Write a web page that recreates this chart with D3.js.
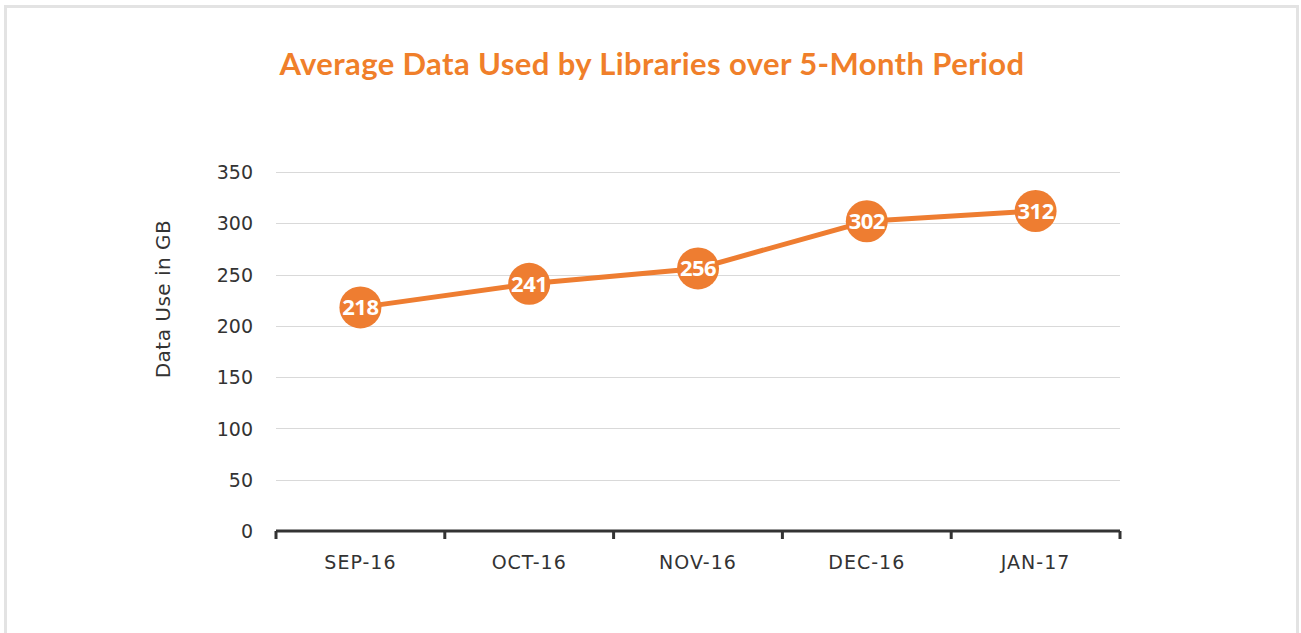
<!DOCTYPE html>
<html>
<head>
<meta charset="utf-8">
<script src="https://cdn.jsdelivr.net/npm/d3@7"></script>
<style>
  body { margin: 0; background: #fff; }
  svg { display: block; }
</style>
</head>
<body>
<svg id="chart"></svg>
<script>
let months = ["SEP-16", "OCT-16", "NOV-16", "DEC-16", "JAN-17"];
let usage = [218, 241, 256, 302, 312];
let yTicks = [0, 50, 100, 150, 200, 250, 300, 350];

let width = 1301;
let height = 633;
let left = 276;
let right = 1120;
let top_ = 172;
let bottom = 531;
let orange = "#ee7d31";
let axisFont = "'DejaVu Sans', 'Noto Sans', sans-serif";

let svg = d3.select("#chart").attr("width", width).attr("height", height);

// outer frame
svg.append("rect")
  .attr("x", 5.5).attr("y", 6.5)
  .attr("width", 1292).attr("height", 640)
  .attr("fill", "none")
  .attr("stroke", "#e3e3e3")
  .attr("stroke-width", 3);

let xScale = d3.scaleBand().domain(months).range([left, right]);
let yScale = d3.scaleLinear().domain([0, 350]).range([bottom, top_]);

// title
svg.append("text")
  .attr("x", 652).attr("y", 75)
  .attr("text-anchor", "middle")
  .style("font-family", "Lato, 'Open Sans', sans-serif")
  .style("font-weight", "bold")
  .style("font-size", "31px")
  .style("letter-spacing", "0.4px")
  .style("fill", "#f07f2a")
  .text("Average Data Used by Libraries over 5-Month Period");

// gridlines
svg.append("g")
  .selectAll("line")
  .data(yTicks.filter(d => d > 0))
  .enter()
  .append("line")
  .attr("x1", left).attr("x2", right)
  .attr("y1", d => Math.round(yScale(d)) + 0.5)
  .attr("y2", d => Math.round(yScale(d)) + 0.5)
  .attr("stroke", "#d9d9d9")
  .attr("stroke-width", 1);

// y axis labels
let yAxis = d3.axisLeft(yScale).tickValues(yTicks).tickSize(0).tickPadding(0);
let yg = svg.append("g")
  .attr("transform", "translate(" + 253 + ",0)")
  .call(yAxis);
yg.select(".domain").remove();
yg.selectAll("text")
  .style("font-family", axisFont)
  .style("font-size", "19px")
  .style("fill", "#333")
  .attr("dy", "0.35em");

// y axis title
svg.append("text")
  .attr("transform", "translate(170,299) rotate(-90)")
  .attr("text-anchor", "middle")
  .style("font-family", axisFont)
  .style("font-size", "20px")
  .style("letter-spacing", "0.5px")
  .style("fill", "#333")
  .text("Data Use in GB");

// x axis
let boundaries = months.map(m => xScale(m)).concat([right]);
let xg = svg.append("g");
xg.append("line")
  .attr("x1", left).attr("x2", right)
  .attr("y1", bottom).attr("y2", bottom)
  .attr("stroke", "#333")
  .attr("stroke-width", 3);
xg.selectAll(".tick")
  .data(boundaries)
  .enter()
  .append("line")
  .attr("x1", d => d).attr("x2", d => d)
  .attr("y1", bottom).attr("y2", bottom + 8)
  .attr("stroke", "#333")
  .attr("stroke-width", 3);
xg.selectAll(".xlabel")
  .data(months)
  .enter()
  .append("text")
  .attr("x", d => xScale(d) + xScale.bandwidth() / 2)
  .attr("y", 569)
  .attr("text-anchor", "middle")
  .style("font-family", axisFont)
  .style("font-size", "19px")
  .style("letter-spacing", "1px")
  .style("fill", "#333")
  .text(d => d);

// line
let points = months.map((m, i) => ({ month: m, value: usage[i] }));
let line = d3.line()
  .x(d => xScale(d.month) + xScale.bandwidth() / 2)
  .y(d => yScale(d.value));

svg.append("path")
  .datum(points)
  .attr("d", line)
  .attr("fill", "none")
  .attr("stroke", orange)
  .attr("stroke-width", 5);

let dots = svg.append("g")
  .selectAll("g")
  .data(points)
  .enter()
  .append("g")
  .attr("transform", d => "translate(" + (xScale(d.month) + xScale.bandwidth() / 2) + "," + yScale(d.value) + ")");

dots.append("circle")
  .attr("r", 21)
  .attr("fill", orange);

dots.append("text")
  .attr("text-anchor", "middle")
  .attr("dy", "0.36em")
  .style("font-family", "'Open Sans', 'Noto Sans', sans-serif")
  .style("font-weight", "bold")
  .style("font-size", "22px")
  .style("fill", "#fff")
  .style("letter-spacing", "-0.5px")
  .text(d => d.value);
</script>
</body>
</html>
